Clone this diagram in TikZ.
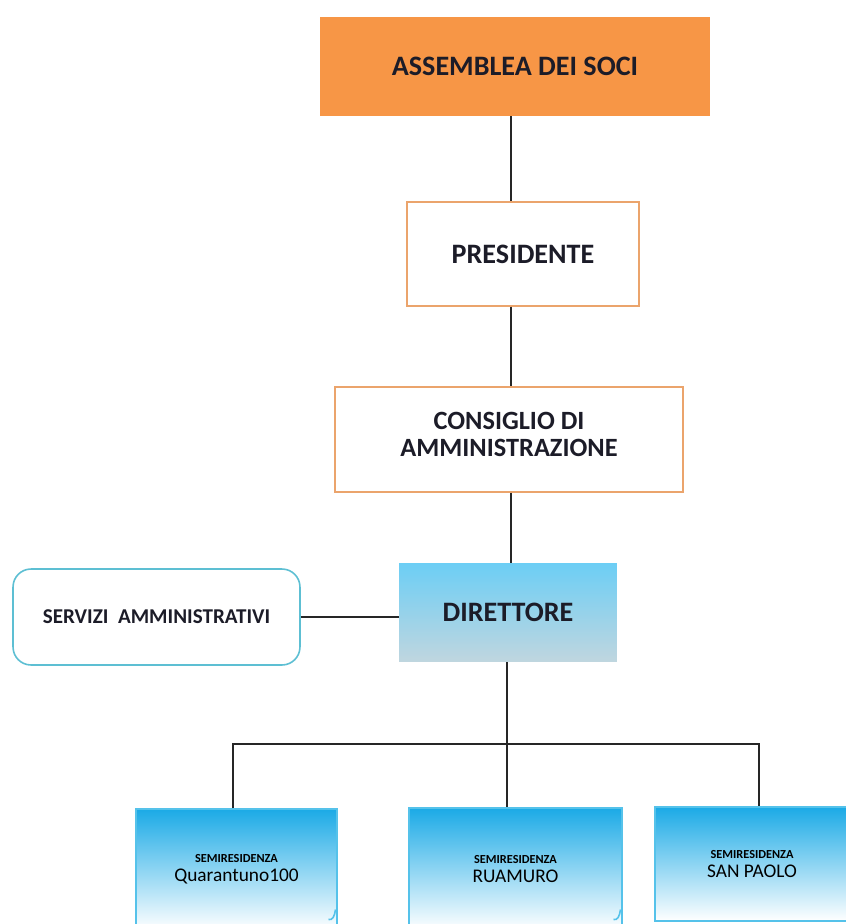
\documentclass[tikz,border=0pt]{standalone}
\usepackage{fontspec}
\setmainfont{Carlito}
\usetikzlibrary{positioning}
\definecolor{assorange}{HTML}{F79646}
\definecolor{boxtan}{HTML}{EBA46C}
\definecolor{dirtop}{HTML}{6CCEF5}
\definecolor{dirbottom}{HTML}{C0D6DF}
\definecolor{servcyan}{HTML}{5DBFD3}
\definecolor{semitop}{HTML}{1BAAE6}
\definecolor{semiedge}{HTML}{55C2EA}
\definecolor{inkdark}{HTML}{1C1C28}

\begin{document}
\begin{tikzpicture}[x=0.02cm,y=-0.02cm,
  conn/.style={line width=0.9pt,black!85},
  chartbox/.style={rectangle,inner sep=0pt,align=center,text=inkdark},
  bigtext/.style={font=\fontsize{16}{19}\selectfont\bfseries},
  tanbox/.style={chartbox,draw=boxtan,line width=0.8pt,fill=white},
  semibox/.style={chartbox,draw=semiedge,line width=0.6pt,top color=semitop,
    middle color=semitop!50!white,bottom color=white,text=black,font=\fontsize{11}{12}\selectfont},
  curl/.style={semiedge,line width=0.9pt}]
\useasboundingbox[fill=white] (0,0) rectangle (846,924);

\node[chartbox,fill=assorange,bigtext,minimum width=7.8cm,minimum height=1.98cm] (assemblea) at (515,66.5) {ASSEMBLEA DEI SOCI};
\node[tanbox,bigtext,minimum width=4.64cm,minimum height=2.08cm] (presidente) at (523,254) {PRESIDENTE};
\node[tanbox,font=\fontsize{15}{15}\selectfont\bfseries,minimum width=6.96cm,minimum height=2.1cm] (consiglio) at (509,439.5) {CONSIGLIO DI\\AMMINISTRAZIONE\\[-9pt]\mbox{}};
\node[chartbox,top color=dirtop,bottom color=dirbottom,bigtext,minimum width=4.36cm,minimum height=1.98cm] (direttore) at (508,612.5) {DIRETTORE};
\node[chartbox,draw=servcyan,line width=0.9pt,rounded corners=0.36cm,fill=white,font=\fontsize{12}{14}\selectfont\bfseries,minimum width=5.74cm,minimum height=1.92cm] (servizi) at (156.5,617) {SERVIZI\ \ AMMINISTRATIVI};

% semiresidenze
\node[semibox,minimum width=4.02cm,minimum height=2.42cm] (sr1) at (236.5,869.5) {{\fontsize{7}{8}\selectfont\bfseries SEMIRESIDENZA}\\[-1pt]Quarantuno100};
\node[semibox,minimum width=4.26cm,minimum height=2.44cm] (sr2) at (515.5,869) {{\fontsize{7}{8}\selectfont\bfseries SEMIRESIDENZA}\\[-1pt]RUAMURO};
\node[semibox,minimum width=3.88cm,minimum height=2.28cm] (sr3) at (752,864) {{\fontsize{7}{8}\selectfont\bfseries SEMIRESIDENZA}\\[-1pt]SAN PAOLO};

\draw[curl] ([shift={(-2,-21)}]sr1.south east) .. controls ([shift={(-3,-14)}]sr1.south east) and ([shift={(-5,-10)}]sr1.south east) .. ([shift={(-9,-11)}]sr1.south east);
\draw[curl] ([shift={(-2,-21)}]sr2.south east) .. controls ([shift={(-3,-14)}]sr2.south east) and ([shift={(-5,-10)}]sr2.south east) .. ([shift={(-9,-11)}]sr2.south east);

% connectors
\coordinate (spine) at (511,0);
\coordinate (bus) at (507,744);
\draw[conn] (assemblea.south -| spine) -- (presidente.north -| spine);
\draw[conn] (presidente.south -| spine) -- (consiglio.north -| spine);
\draw[conn] (consiglio.south -| spine) -- (direttore.north -| spine);
\draw[conn] (servizi.east) -- (servizi.east -| direttore.west);
\draw[conn] (direttore.south -| bus) -- (bus);
\draw[conn] ([xshift=-0.07cm]sr1.north) |- (bus) -| ([xshift=0.14cm]sr3.north);
\draw[conn] (bus) -- (bus |- sr2.north);
\end{tikzpicture}
\end{document}
